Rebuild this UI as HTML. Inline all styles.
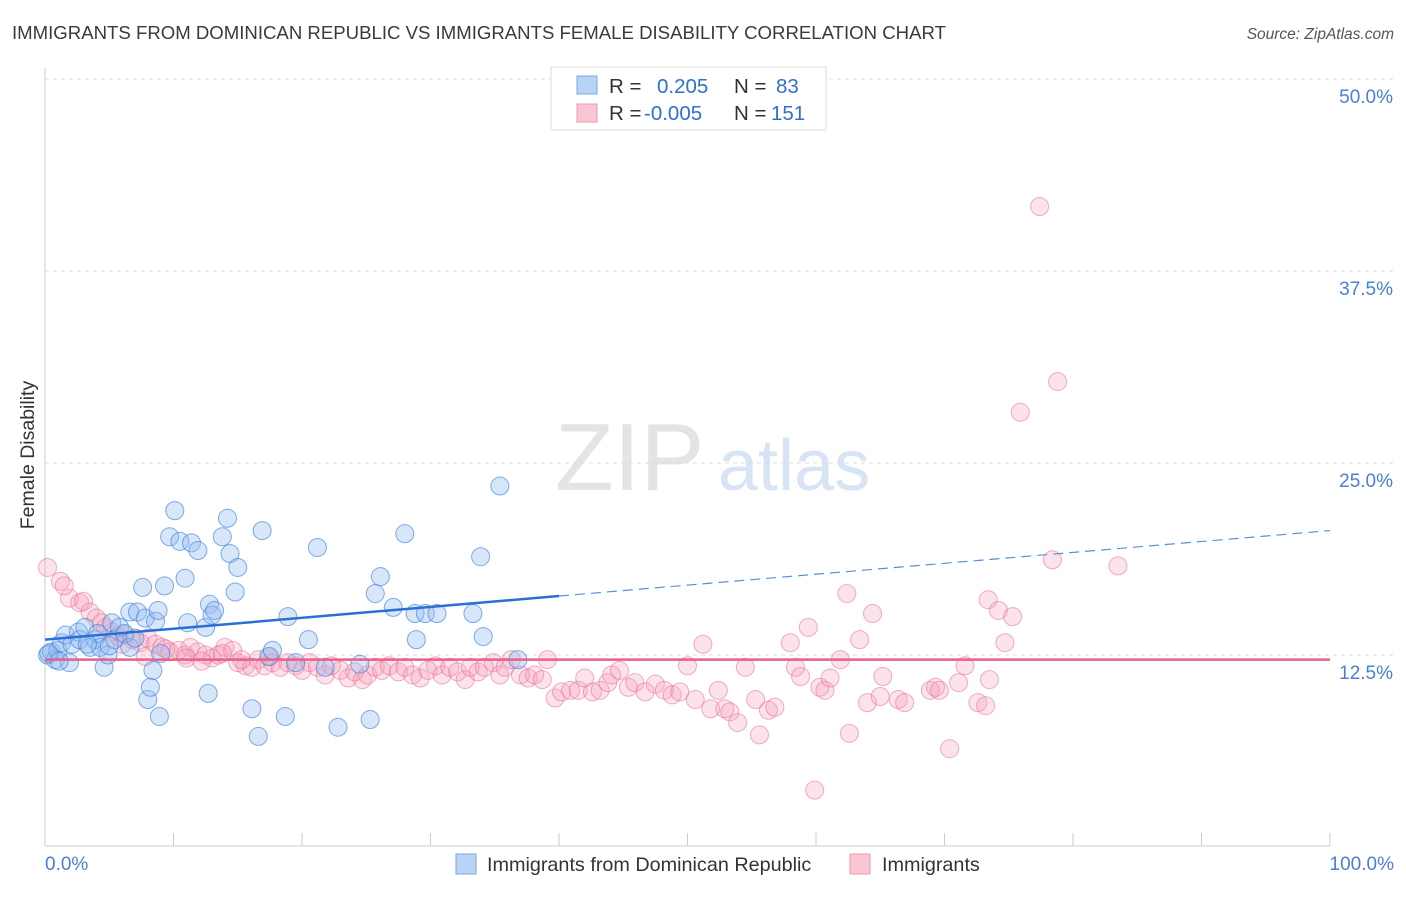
<!DOCTYPE html>
<html><head><meta charset="utf-8"><style>
body{margin:0;background:#fff;font-family:"Liberation Sans",sans-serif}
svg text{font-family:"Liberation Sans",sans-serif}
</style></head><body>
<svg id="chart" width="1406" height="892" viewBox="0 0 1406 892">
<text x="12" y="39" font-size="18.6" fill="#3a3a3a">IMMIGRANTS FROM DOMINICAN REPUBLIC VS IMMIGRANTS FEMALE DISABILITY CORRELATION CHART</text>
<text x="1394" y="39" font-size="15.5" fill="#555" font-style="italic" text-anchor="end">Source: ZipAtlas.com</text>
<text x="555" y="490" font-size="96" fill="#e4e4e4" font-family="Liberation Serif">ZIP</text>
<text x="718" y="490" font-size="72" fill="#d6e4f5">atlas</text>
<g id="grid"></g>
<line x1="45" y1="68" x2="45" y2="846" stroke="#ccc"/>
<line x1="45" y1="846" x2="1330" y2="846" stroke="#ccc"/>
<g id="xticks"></g>
<text transform="translate(34,455) rotate(-90)" font-size="19.5" fill="#333" text-anchor="middle">Female Disability</text>
<text x="45" y="870" font-size="19" fill="#4a7fd4">0.0%</text>
<text x="1394" y="870" font-size="19" fill="#4a7fd4" text-anchor="end">100.0%</text>
<g id="pts"></g>
<g id="trends"></g>
<g>
<rect x="551" y="67" width="275" height="63" fill="#fff" stroke="#ddd"/>
<rect x="577" y="76" width="20" height="18" fill="#b8d3f5" stroke="#7aa6e0"/>
<rect x="577" y="104" width="20" height="18" fill="#f9c6d4" stroke="#ee9ab2"/>
<text x="609" y="93" font-size="20.5" fill="#333">R = <tspan x="657" fill="#2f6fd0">0.205</tspan><tspan x="734" fill="#333">N = </tspan><tspan x="776" fill="#2f6fd0">83</tspan></text>
<text x="609" y="120" font-size="20.5" fill="#333">R = <tspan x="644" fill="#2f6fd0">-0.005</tspan><tspan x="734" fill="#333">N = </tspan><tspan x="771" fill="#2f6fd0">151</tspan></text>
</g>
<g>
<rect x="456" y="854" width="20" height="20" fill="#b8d3f5" stroke="#7aa6e0"/>
<text x="487" y="871" font-size="19.8" fill="#333">Immigrants from Dominican Republic</text>
<rect x="850" y="854" width="20" height="20" fill="#f9c6d4" stroke="#ee9ab2"/>
<text x="882" y="871" font-size="19.8" fill="#333">Immigrants</text>
</g>
</svg>
<script>
const yTicks=[12.5,25,37.5,50];
const yTickLabels=["12.5%","25.0%","37.5%","50.0%"];
const xTicks=[0,10,20,30,40,50,60,70,80,90,100];
const blueX=[0.2,0.5,0.8,1.0,1.3,1.6,1.9,2.1,2.6,2.7,3.1,3.5,3.9,4.1,4.3,4.6,4.9,5.2,5.4,5.8,6.2,6.6,6.6,7.2,7.6,7.8,8.0,8.2,8.4,8.6,8.8,8.9,9.3,9.7,10.1,10.5,10.9,11.1,11.4,11.9,12.5,12.7,12.8,13.0,13.2,13.8,14.2,14.4,14.8,15.0,16.1,16.6,16.9,17.4,17.7,18.7,18.9,19.5,20.5,21.2,21.8,22.8,24.5,25.3,25.7,26.1,27.1,28.0,28.8,28.9,29.6,30.5,33.3,33.9,34.1,35.4,36.8,0.3,1.1,3.3,5.0,7.0,9.0];
const blueY=[12.5,12.7,12.2,12.8,13.3,13.8,12.0,13.2,14.0,13.5,14.3,13.0,13.5,13.9,13.0,11.7,12.5,14.6,13.5,14.3,13.9,13.0,15.3,15.3,16.9,14.9,9.6,10.4,11.5,14.7,15.4,8.5,17.0,20.2,21.9,19.9,17.5,14.6,19.8,19.3,14.3,10.0,15.8,15.1,15.4,20.2,21.4,19.1,16.6,18.2,9.0,7.2,20.6,12.4,12.8,8.5,15.0,12.0,13.5,19.5,11.7,7.8,11.9,8.3,16.5,17.6,15.6,20.4,15.2,13.5,15.2,15.2,15.2,18.9,13.7,23.5,12.2,12.6,12.1,13.2,13.1,13.6,12.6];
const pinkX=[0.2,1.2,1.9,2.7,3.5,4.0,4.7,5.2,5.7,6.2,6.8,7.4,8.0,8.6,9.1,9.7,10.4,10.9,11.3,11.9,12.5,13.0,13.5,14.0,14.6,15.0,15.6,16.1,16.6,17.1,17.7,18.3,18.9,19.5,20.0,20.6,21.2,21.8,22.3,23.0,23.6,24.1,24.7,25.1,25.7,26.2,26.8,27.5,28.0,28.6,29.2,29.8,30.4,30.9,31.5,32.1,32.7,33.1,33.7,34.2,34.9,35.4,35.8,36.3,37.0,37.6,38.1,38.7,39.1,39.7,40.2,40.9,41.5,42.0,42.6,43.2,43.8,44.1,44.7,45.4,45.9,46.7,47.5,48.2,48.8,49.4,50.0,50.6,51.2,51.8,52.4,52.9,53.3,53.9,54.5,55.3,55.6,56.3,56.8,58.0,58.4,58.8,59.4,59.9,60.3,60.7,61.1,61.9,62.4,62.6,63.4,64.0,64.4,65.0,65.2,66.4,66.9,68.9,69.3,69.6,70.4,71.1,71.6,72.6,73.2,73.5,73.4,74.2,74.7,75.3,75.9,77.4,78.4,78.8,83.5,1.5,3.0,4.4,6.0,7.8,9.4,11.0,12.2,13.8,15.3,17.5];
const pinkY=[18.2,17.3,16.2,15.9,15.3,14.9,14.3,14.0,13.7,13.8,13.5,13.3,13.6,13.2,13.0,12.7,12.8,12.5,13.0,12.7,12.5,12.3,12.5,13.0,12.8,12.0,11.8,11.7,12.2,11.8,12.0,11.7,12.0,11.8,11.5,12.0,11.7,11.2,11.8,11.5,11.0,11.4,10.9,11.2,11.7,11.5,11.8,11.4,11.7,11.2,11.0,11.5,11.8,11.2,11.7,11.4,10.9,11.7,11.4,11.7,12.0,11.2,11.7,12.2,11.2,11.0,11.2,10.9,12.2,9.7,10.1,10.2,10.2,11.0,10.1,10.2,10.7,11.2,11.5,10.4,10.7,10.1,10.6,10.2,9.9,10.1,11.8,9.6,13.2,9.0,10.2,9.0,8.8,8.1,11.7,9.6,7.3,8.9,9.1,13.3,11.7,11.1,14.3,3.7,10.4,10.2,11.0,12.2,16.5,7.4,13.5,9.4,15.2,9.8,11.1,9.6,9.4,10.2,10.4,10.2,6.4,10.7,11.8,9.4,9.2,10.9,16.1,15.4,13.3,15.0,28.3,41.7,18.7,30.3,18.3,17.0,16.0,14.6,13.2,12.4,12.9,12.3,12.1,12.6,12.2,12.4];
const blueTrend=[13.5,20.6];
const pinkTrend=[12.2,12.2];
const X0=45,X1=1330,Y0=847,Y50=79;
const sx=v=>X0+(X1-X0)*v/100;
const sy=v=>Y0-(Y0-Y50)*v/50;
const NS="http://www.w3.org/2000/svg";
function mk(tag,attrs,parent){const e=document.createElementNS(NS,tag);for(const k in attrs)e.setAttribute(k,attrs[k]);parent.appendChild(e);return e;}
const grid=document.getElementById('grid');
yTicks.forEach((t,i)=>{
  const l=mk('line',{x1:45,x2:1394,y1:sy(t),y2:sy(t),stroke:'#ddd','stroke-dasharray':'4,4'},grid);
  
  
  const tx=mk('text',{x:1393,y:sy(t)+24,'font-size':19,fill:'#4a7fd4','text-anchor':'end'},grid);
  tx.textContent=yTickLabels[i];
  
  
});
const xt=document.getElementById('xticks');
xTicks.forEach(t=>{
  const l=mk('line',{x1:sx(t),x2:sx(t),y1:833,y2:846,stroke:'#ccc'},xt);
  
  
});
const pts=document.getElementById('pts');
pinkX.forEach((x,i)=>{
  const c=mk('circle',{cx:sx(x),cy:sy(pinkY[i]),r:9,fill:'rgba(244,160,186,0.3)',stroke:'rgba(232,110,150,0.55)','stroke-width':1},pts);
  
  
});
blueX.forEach((x,i)=>{
  const c=mk('circle',{cx:sx(x),cy:sy(blueY[i]),r:9,fill:'rgba(150,190,240,0.38)',stroke:'rgba(60,130,220,0.65)','stroke-width':1},pts);
  
  
});
const tr=document.getElementById('trends');
const bAt=v=>blueTrend[0]+(blueTrend[1]-blueTrend[0])*v/100;
const b1=mk('line',{x1:sx(0),y1:sy(bAt(0)),x2:sx(40),y2:sy(bAt(40)),stroke:'#2a6fd6','stroke-width':2.5},tr);


const b2=mk('line',{x1:sx(40),y1:sy(bAt(40)),x2:sx(100),y2:sy(bAt(100)),stroke:'#5a8fd8','stroke-width':1.2,'stroke-dasharray':'10,6'},tr);


const p1=mk('line',{x1:sx(0),y1:sy(pinkTrend[0]),x2:sx(100),y2:sy(pinkTrend[1]),stroke:'#e8608a','stroke-width':2.5},tr);


</script>
</body></html>
